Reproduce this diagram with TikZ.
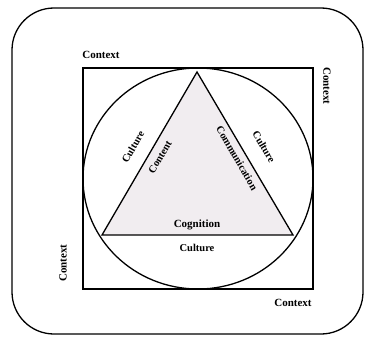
\documentclass[tikz,border=0pt]{standalone}
\usepackage{fontspec}
\setmainfont{Liberation Serif}
\definecolor{trifill}{RGB}{241,237,240}
\begin{document}
\begin{tikzpicture}[x=1pt,y=-1pt,
  shape line/.style={line width=1.3pt,black},
  lbl/.style={font=\bfseries\fontsize{10.5}{11}\selectfont,inner sep=0pt},
  biglbl/.style={font=\bfseries\fontsize{11}{12}\selectfont,inner sep=0pt}]
\useasboundingbox (0,0) rectangle (366,337);
\draw[line width=1.3pt,rounded corners=42pt] (12,8) rectangle (363,334);
\draw[shape line] (83,68) rectangle (313,289);
\coordinate (A) at (197,72);
\coordinate (B) at (102,235);
\coordinate (C) at (293,235);
\fill[trifill] (A) -- (B) -- (C) -- cycle;
\draw[shape line] (198,178.5) ellipse [x radius=115, y radius=110.5];
\draw[shape line] (A) -- (B) -- (C) -- cycle;
\node[biglbl] (ctl) at (101,55) {Context};
\node[biglbl,rotate=-90] (ctr) at (327,86) {Context};
\node[biglbl,rotate=90] (ctlb) at (63,263) {Context};
\node[biglbl] (ctb) at (293,303) {Context};
\node[lbl,rotate=60] (cul) at (133,147) {Culture};
\node[lbl,rotate=60] (con) at (160,157) {Content};
\node[lbl,rotate=-60] (com) at (237,158) {Communication};
\node[lbl,rotate=-60] (cur) at (264,147) {Culture};
\node[biglbl] (cog) at (197,225) {Cognition};
\node[lbl] (cub) at (197,248) {Culture};
\end{tikzpicture}
\end{document}
